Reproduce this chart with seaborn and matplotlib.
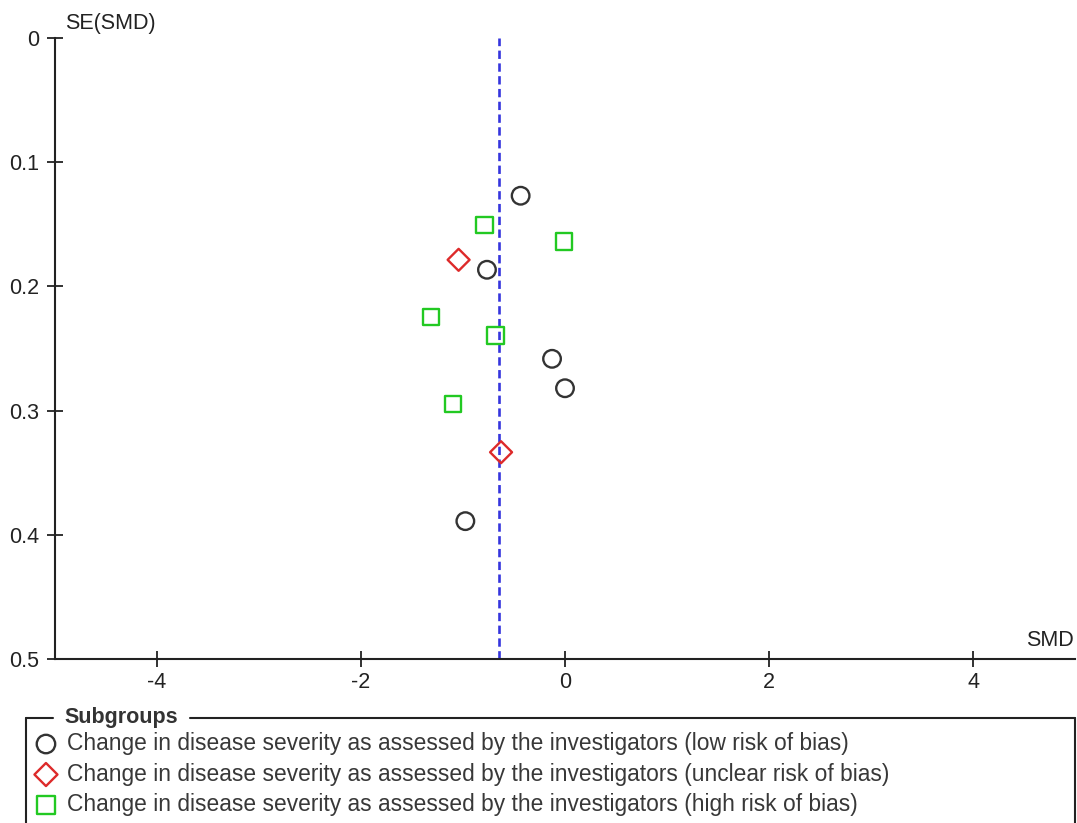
import matplotlib
matplotlib.use("Agg")
import matplotlib.pyplot as plt
from matplotlib.lines import Line2D
import seaborn as sns
import pandas as pd

# ---- data ----
low_smd = [-0.435, -0.765, -0.127, 0.0, -0.977]
low_se = [0.127, 0.1866, 0.2583, 0.282, 0.389]
unclear_smd = [-1.043, -0.627]
unclear_se = [0.1786, 0.3335]
high_smd = [-0.791, -0.010, -1.314, -0.680, -1.098]
high_se = [0.1504, 0.1638, 0.2248, 0.2396, 0.2946]
pooled_smd = -0.647

group_labels = [
    "Change in disease severity as assessed by the investigators (low risk of bias)",
    "Change in disease severity as assessed by the investigators (unclear risk of bias)",
    "Change in disease severity as assessed by the investigators (high risk of bias)",
]
x_ticks = [-4, -2, 0, 2, 4]
y_ticks = [0, 0.1, 0.2, 0.3, 0.4, 0.5]
y_ticklabels = ["0", "0.1", "0.2", "0.3", "0.4", "0.5"]

df = pd.concat([
    pd.DataFrame({"SMD": low_smd, "SE": low_se, "group": group_labels[0]}),
    pd.DataFrame({"SMD": unclear_smd, "SE": unclear_se, "group": group_labels[1]}),
    pd.DataFrame({"SMD": high_smd, "SE": high_se, "group": group_labels[2]}),
], ignore_index=True)

# ---- styling ----
sns.set_theme(style="white")
plt.rcParams["font.family"] = ["Liberation Sans", "DejaVu Sans"]
plt.rcParams["lines.scale_dashes"] = False

W, H = 1077, 823
FS = 15.5
TXT = "#222222"


def fx(x):
    return x / W


def fy(y):
    return 1 - y / H


fig = plt.figure(figsize=(W / 100, H / 100), dpi=100)
fig.patch.set_facecolor("white")
ax = fig.add_axes([fx(55), fy(659), (1075 - 55) / W, (659 - 38) / H])
ax.set_facecolor("white")

colors = ["#333333", "#dd2a2a", "#22c922"]
markers = ["o", "D", "s"]
sizes = [160, 125, 140]
for lab, col, mk, sz in zip(group_labels, colors, markers, sizes):
    sub = df[df["group"] == lab]
    sns.scatterplot(data=sub, x="SMD", y="SE", ax=ax, marker=mk, s=sz,
                    facecolor="none", edgecolor=col, color=col,
                    linewidth=1.7, label=lab, legend=False, zorder=3)

ax.axvline(pooled_smd, color="#3535dd", linewidth=1.9,
           linestyle=(0, (6, 3.2)), zorder=2)

ax.set_xlim(-5, 5)
ax.set_ylim(0.5, 0)
ax.set_xticks(x_ticks)
ax.set_xticklabels([str(t) for t in x_ticks])
ax.set_yticks(y_ticks)
ax.set_yticklabels(y_ticklabels)
ax.set_xlabel("")
ax.set_ylabel("")

for side in ["top", "right"]:
    ax.spines[side].set_visible(False)
for side in ["left", "bottom"]:
    ax.spines[side].set_visible(True)
    ax.spines[side].set_color("#222222")
    ax.spines[side].set_linewidth(1.5)

ax.tick_params(axis="both", direction="inout", length=11, width=1.3,
               color="#222222", labelsize=FS, labelcolor=TXT,
               left=True, bottom=True)
ax.tick_params(axis="y", pad=6)
ax.tick_params(axis="x", pad=4)

fig.text(fx(65), fy(24), "SE(SMD)", ha="left", va="center",
         fontsize=FS, color=TXT)
fig.text(fx(1074), fy(641), "SMD", ha="right", va="center",
         fontsize=FS, color=TXT)

# ---- legend frame with inset title ----
lc = "#222222"
lw = 1.5
fig.add_artist(Line2D([fx(25.5), fx(53)], [fy(718), fy(718)], color=lc, lw=lw,
                      transform=fig.transFigure))
fig.add_artist(Line2D([fx(190), fx(1075)], [fy(718), fy(718)], color=lc, lw=lw,
                      transform=fig.transFigure))
fig.add_artist(Line2D([fx(25.5), fx(25.5)], [fy(718), fy(830)], color=lc, lw=lw,
                      transform=fig.transFigure))
fig.add_artist(Line2D([fx(1075), fx(1075)], [fy(718), fy(830)], color=lc, lw=lw,
                      transform=fig.transFigure))
fig.text(fx(64), fy(717), "Subgroups", ha="left", va="center",
         fontsize=FS, fontweight="bold", color="#333333")

handles, labels = ax.get_legend_handles_labels()
leg = fig.legend(handles, labels, loc="upper left",
                 bbox_to_anchor=(fx(34), fy(732)),
                 frameon=False, fontsize=16.4, handlelength=1.05,
                 handletextpad=0.42, labelspacing=0.33,
                 borderpad=0, borderaxespad=0, markerscale=1.05)
for t in leg.get_texts():
    t.set_color("#383838")

fig.savefig("out.png", dpi=100, facecolor="white")
